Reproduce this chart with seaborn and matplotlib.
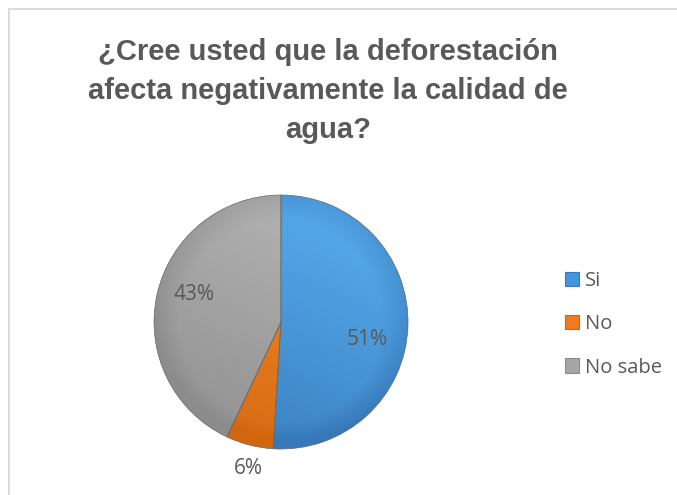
import numpy as np
import matplotlib
matplotlib.use("Agg")
import matplotlib.pyplot as plt
import matplotlib.colors as mcolors
import seaborn as sns
from matplotlib.lines import Line2D
from matplotlib.patches import Patch

# data
labels = ["Si", "No", "No sabe"]
values = [51, 6, 43]
title = "¿Cree usted que la deforestación\nafecta negativamente la calidad de\nagua?"

sns.set_theme(style="white")
plt.rcParams['font.family'] = ['Liberation Sans', 'DejaVu Sans']

colors = ["#4495DC", "#EE7B20", "#A6A6A6"]
light = ["#58AFF0", "#F68A2C", "#B6B6B6"]
dark = ["#3778B8", "#D2660F", "#8C8C8C"]
text_col = "#595959"

fig = plt.figure(figsize=(6.77, 4.95), dpi=100)
fig.patch.set_facecolor("white")

# light outer border (top and left edges of the Excel chart area)
W, H = 677, 495
fig.add_artist(Line2D([9 / W, 1.0], [1 - 9 / H, 1 - 9 / H], transform=fig.transFigure,
                      color="#D9D9D9", linewidth=1.3))
fig.add_artist(Line2D([9 / W, 9 / W], [0.0, 1 - 9 / H], transform=fig.transFigure,
                      color="#D9D9D9", linewidth=1.3))

fig.text(0.485, 0.924, title, ha="center", va="top", fontsize=21,
         fontweight="bold", color=text_col, linespacing=1.5)

# pie axes
ax = fig.add_axes([0.2275, 0.0929, 0.3752, 0.5131])
wedges, texts, autotexts = ax.pie(values, colors=colors, startangle=90,
                                  counterclock=False, autopct="%1.0f%%",
                                  wedgeprops=dict(edgecolor="#666666", linewidth=0.5),
                                  textprops=dict(fontsize=15, color=text_col,
                                                 family="Open Sans"))
ax.set_xlim(-1, 1)
ax.set_ylim(-1, 1)
ax.set_aspect("equal")
ax.axis("off")

# shading gradient inside each wedge (light top-left, darker towards rim)
yy, xx = np.mgrid[1:-1:300j, -1:1:300j]
rr = np.sqrt(xx ** 2 + yy ** 2)
grad = np.clip(0.55 + 0.35 * yy + 0.15 * xx - 0.35 * np.clip(rr - 0.8, 0, 1) / 0.2, 0, 1)
for w, lc, dc in zip(wedges, light, dark):
    cm = mcolors.LinearSegmentedColormap.from_list("g", [dc, lc])
    im = ax.imshow(grad, cmap=cm, extent=(-1, 1, -1, 1), vmin=0, vmax=1,
                   zorder=w.get_zorder() + 0.1)
    im.set_clip_path(w)
    w.set_zorder(w.get_zorder() + 0.2)
    w.set_facecolor("none")

# percent label positions (Excel best fit)
label_pos = [(0.677, -0.134), (-0.26, -1.15), (-0.685, 0.213)]
for t, p in zip(autotexts, label_pos):
    t.set_position(p)
    t.set_zorder(10)

handles = [Patch(facecolor=c, edgecolor=d, linewidth=0.8) for c, d in zip(colors, dark)]
fig.legend(handles, labels, loc="upper left", bbox_to_anchor=(0.834, 0.452),
           frameon=False, labelcolor=text_col, handlelength=0.7,
           handleheight=0.7, handletextpad=0.3, labelspacing=1.15,
           borderaxespad=0, borderpad=0,
           prop=dict(family="Open Sans", size=14.5))

fig.savefig("out.png", dpi=100)
